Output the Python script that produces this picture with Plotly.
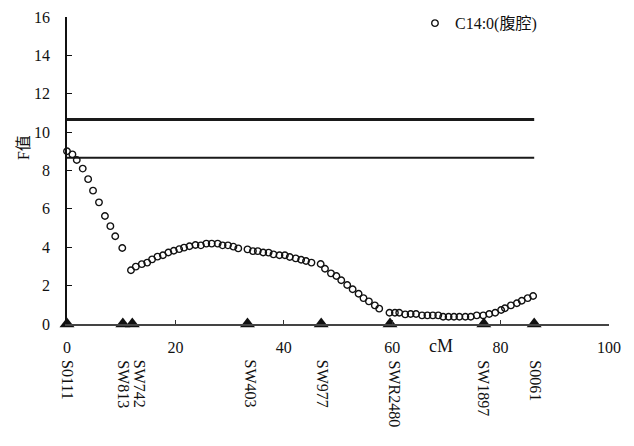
import plotly.graph_objects as go

# --- data ---
pos_cM = [0, 1.0, 1.8, 2.9, 3.9, 4.8, 5.9, 7.0, 8.0, 8.9, 10.2,
          11.8, 12.7, 13.8, 14.8, 15.7, 16.7, 17.7, 18.7, 19.7, 20.7, 21.6, 22.6, 23.7, 24.7, 25.7,
          26.7, 27.8, 28.7, 29.7, 30.7, 31.6,
          33.3, 34.3, 35.2, 36.2, 37.2, 38.1, 39.2, 40.2, 41.1, 42.2, 43.2, 44.1, 45.1,
          46.8, 47.6, 48.7, 49.7, 50.6, 51.7, 52.7, 53.8, 54.7, 55.7, 56.8, 57.6,
          59.5, 60.5, 61.3, 62.4, 63.4, 64.4, 65.5, 66.5, 67.5, 68.5, 69.4, 70.4, 71.4, 72.4,
          73.5, 74.5, 75.6, 76.8, 77.9, 79.0, 80.1, 80.8, 81.9, 83.0, 83.9, 85.0, 86.0]
f_values = [9.0, 8.84, 8.55, 8.1, 7.55, 6.95, 6.34, 5.63, 5.1, 4.57, 3.96,
            2.8, 2.99, 3.12, 3.2, 3.37, 3.51, 3.58, 3.73, 3.82, 3.9, 3.98, 4.05, 4.12, 4.1, 4.19,
            4.19, 4.19, 4.1, 4.1, 4.03, 3.94,
            3.89, 3.8, 3.8, 3.73, 3.72, 3.63, 3.58, 3.58, 3.49, 3.42, 3.35, 3.28, 3.2,
            3.13, 2.88, 2.64, 2.5, 2.28, 2.03, 1.81, 1.58, 1.35, 1.18, 0.97, 0.8,
            0.59, 0.59, 0.59, 0.5, 0.52, 0.52, 0.45, 0.45, 0.45, 0.45, 0.38, 0.38, 0.38, 0.38,
            0.38, 0.38, 0.45, 0.45, 0.52, 0.59, 0.73, 0.82, 0.97, 1.08, 1.21, 1.35, 1.46]
series_name = "C14:0(腹腔)"

marker_names = ["S0111", "SW813", "SW742", "SW403", "SW977", "SWR2480", "SW1897", "S0061"]
marker_pos = [0, 10.3, 12.05, 33.3, 46.9, 59.6, 76.9, 86.2]
label_shift = [1, 1, 8, 4, 2, 4, 0, 1]

threshold_hi = 10.66
threshold_lo = 8.67
threshold_x = [0, 86.2]

x_ticks = [0, 20, 40, 60, 80, 100]
y_ticks = [0, 2, 4, 6, 8, 10, 12, 14, 16]

FONT = "Liberation Serif, Times New Roman, Noto Sans CJK SC, serif"

fig = go.Figure()
fig.add_trace(go.Scatter(x=threshold_x, y=[threshold_hi] * 2, mode="lines",
                         line=dict(color="#1a1a1a", width=3), showlegend=False, hoverinfo="skip"))
fig.add_trace(go.Scatter(x=threshold_x, y=[threshold_lo] * 2, mode="lines",
                         line=dict(color="#1a1a1a", width=2), showlegend=False, hoverinfo="skip"))
fig.add_trace(go.Scatter(x=pos_cM, y=f_values, mode="markers", name=series_name,
                         marker=dict(symbol="circle-open", size=6.5, color="#111",
                                     line=dict(width=1.4, color="#111")),
                         cliponaxis=False))
fig.add_trace(go.Scatter(x=marker_pos, y=[0] * len(marker_pos), mode="markers",
                         marker=dict(symbol="triangle-up", size=13, color="#111"),
                         showlegend=False, cliponaxis=False))

for name, p, s in zip(marker_names, marker_pos, label_shift):
    fig.add_annotation(x=p, y=0, xref="x", yref="y", text=name, showarrow=False,
                       textangle=90, xanchor="center", yanchor="top", yshift=-34, xshift=s,
                       font=dict(family=FONT, size=16, color="#111"))

fig.add_annotation(x=69, y=0, xref="x", yref="y", text="cM", showarrow=False,
                   xanchor="center", yanchor="middle", yshift=-22,
                   font=dict(family=FONT, size=18, color="#111"))
fig.add_annotation(x=-0.08, y=0.575, xref="paper", yref="paper", text="F值", showarrow=False,
                   textangle=-90, xanchor="center", yanchor="middle",
                   font=dict(family=FONT, size=16, color="#111"))

fig.update_layout(
    width=634, height=446,
    margin=dict(l=67, r=25, t=17, b=122, autoexpand=False),
    plot_bgcolor="white", paper_bgcolor="white",
    font=dict(family=FONT, size=15, color="#111"),
    showlegend=True,
    legend=dict(x=0.642, y=1.035, xanchor="left", yanchor="top", bgcolor="rgba(0,0,0,0)",
                font=dict(family=FONT, size=16, color="#111"), itemwidth=30),
    xaxis=dict(range=[0, 100], tickvals=x_ticks, ticktext=[str(v) for v in x_ticks],
               ticks="inside", ticklen=4, tickcolor="#333", showline=True, linecolor="#444",
               linewidth=1.5, showgrid=False, zeroline=False, ticklabelstandoff=8,
               tickfont=dict(family=FONT, size=16)),
    yaxis=dict(range=[0, 16], tickvals=y_ticks, ticks="inside", ticklen=5, tickcolor="#111",
               showline=True, linecolor="#111", linewidth=1.5, showgrid=False, zeroline=False,
               ticklabelstandoff=12, tickfont=dict(family=FONT, size=16)),
)

fig.write_html("out.html")
